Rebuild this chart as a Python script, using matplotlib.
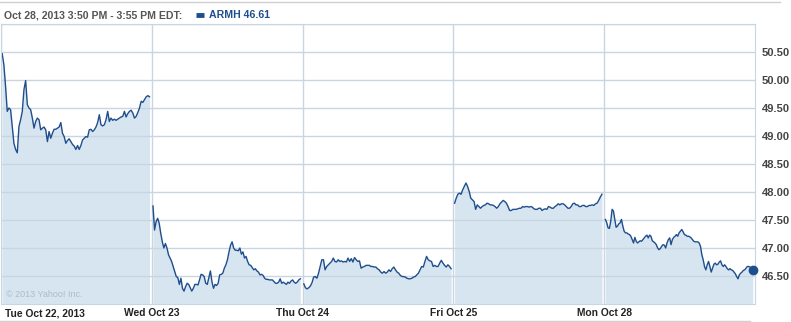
import numpy as np
import matplotlib.pyplot as plt
from matplotlib.lines import Line2D

# ARMH 5-minute prices, one list per trading day
tue = [50.47, 50.27, 49.89, 49.44, 49.50, 49.47, 49.17, 48.87, 48.76, 48.70,
       49.17, 49.29, 49.44, 49.83, 49.99, 49.56, 49.50, 49.47, 49.32, 49.14,
       49.26, 49.32, 49.29, 49.11, 49.14, 49.16, 49.11, 48.90, 49.08, 48.96,
       49.05, 49.12, 49.12, 49.14, 49.16, 49.24, 49.05, 48.99, 48.87, 48.92,
       48.95, 48.90, 48.85, 48.82, 48.76, 48.83, 48.76, 48.83, 48.93, 48.96,
       48.99, 48.98, 49.11, 49.12, 49.08, 49.11, 49.16, 49.24, 49.38, 49.20,
       49.18, 49.20, 49.29, 49.44, 49.26, 49.32, 49.28, 49.30, 49.28, 49.30,
       49.32, 49.34, 49.35, 49.44, 49.34, 49.40, 49.44, 49.46, 49.41, 49.32,
       49.35, 49.42, 49.50, 49.62, 49.60, 49.65, 49.70, 49.72, 49.70]
wed = [47.75, 47.32, 47.47, 47.53, 47.44, 47.26, 47.11, 47.00, 47.08, 47.00,
       46.88, 46.82, 46.76, 46.67, 46.58, 46.49, 46.47, 46.35, 46.46, 46.28,
       46.23, 46.31, 46.37, 46.35, 46.29, 46.23, 46.28, 46.35, 46.35, 46.34,
       46.43, 46.53, 46.52, 46.49, 46.37, 46.35, 46.47, 46.59, 46.40, 46.28,
       46.35, 46.33, 46.37, 46.52, 46.53, 46.55, 46.64, 46.70, 46.79, 46.93,
       47.05, 47.11, 47.00, 46.96, 46.96, 46.95, 47.00, 46.89, 46.93, 46.82,
       46.85, 46.76, 46.70, 46.69, 46.65, 46.61, 46.63, 46.59, 46.57, 46.52,
       46.53, 46.51, 46.46, 46.44, 46.44, 46.43, 46.43, 46.43, 46.40, 46.37,
       46.37, 46.39, 46.45, 46.37, 46.39, 46.37, 46.35, 46.39, 46.37, 46.41,
       46.43, 46.39, 46.37, 46.39, 46.43, 46.45]
thu = [46.36, 46.29, 46.27, 46.29, 46.32, 46.38, 46.48, 46.49, 46.46, 46.55,
       46.67, 46.79, 46.79, 46.61, 46.67, 46.70, 46.73, 46.76, 46.82, 46.76,
       46.75, 46.79, 46.76, 46.77, 46.75, 46.76, 46.75, 46.82, 46.76, 46.81,
       46.75, 46.83, 46.79, 46.76, 46.77, 46.64, 46.66, 46.67, 46.69, 46.69,
       46.69, 46.67, 46.67, 46.66, 46.66, 46.63, 46.61, 46.57, 46.55, 46.58,
       46.55, 46.57, 46.61, 46.58, 46.63, 46.66, 46.61, 46.57, 46.55, 46.51,
       46.49, 46.49, 46.48, 46.46, 46.45, 46.45, 46.46, 46.48, 46.49, 46.52,
       46.55, 46.61, 46.67, 46.66, 46.76, 46.85, 46.79, 46.77, 46.76, 46.67,
       46.69, 46.67, 46.67, 46.73, 46.78, 46.73, 46.69, 46.66, 46.70, 46.67,
       46.63]
fri = [47.80, 47.89, 47.96, 47.98, 47.96, 48.04, 48.10, 48.16, 48.10, 48.01,
       47.89, 47.86, 47.83, 47.69, 47.77, 47.74, 47.71, 47.74, 47.76, 47.77,
       47.80, 47.79, 47.77, 47.77, 47.76, 47.74, 47.71, 47.74, 47.79, 47.82,
       47.85, 47.83, 47.80, 47.74, 47.67, 47.67, 47.69, 47.69, 47.69, 47.70,
       47.71, 47.71, 47.74, 47.73, 47.74, 47.74, 47.73, 47.74, 47.73, 47.70,
       47.69, 47.69, 47.71, 47.71, 47.67, 47.69, 47.70, 47.69, 47.74, 47.73,
       47.71, 47.71, 47.74, 47.76, 47.79, 47.77, 47.79, 47.79, 47.77, 47.74,
       47.71, 47.71, 47.74, 47.79, 47.80, 47.77, 47.77, 47.74, 47.74, 47.76,
       47.76, 47.74, 47.74, 47.76, 47.76, 47.77, 47.76, 47.79, 47.80, 47.85,
       47.91, 47.96]
mon = [47.51, 47.45, 47.36, 47.35, 47.48, 47.69, 47.66, 47.51, 47.37, 47.39,
       47.43, 47.45, 47.51, 47.39, 47.30, 47.27, 47.27, 47.25, 47.24, 47.21,
       47.15, 47.09, 47.19, 47.12, 47.09, 47.11, 47.13, 47.12, 47.15, 47.18,
       47.21, 47.23, 47.18, 47.23, 47.21, 47.13, 47.11, 47.09, 47.06, 47.00,
       46.97, 46.99, 47.03, 47.06, 47.05, 47.00, 47.09, 47.15, 47.18, 47.06,
       47.15, 47.19, 47.21, 47.24, 47.21, 47.27, 47.30, 47.33, 47.29, 47.24,
       47.23, 47.21, 47.21, 47.20, 47.18, 47.15, 47.12, 47.11, 47.11, 47.11,
       47.09, 47.03, 46.88, 46.79, 46.67, 46.61, 46.70, 46.76, 46.67, 46.57,
       46.64, 46.71, 46.73, 46.70, 46.71, 46.75, 46.77, 46.70, 46.67, 46.70,
       46.67, 46.63, 46.61, 46.63, 46.61, 46.60, 46.57, 46.54, 46.49, 46.45,
       46.52, 46.55, 46.57, 46.60, 46.61, 46.64, 46.67, 46.67, 46.66, 46.63,
       46.61]
days = [tue, wed, thu, fri, mon]
day_labels = ['Tue Oct 22, 2013', 'Wed Oct 23', 'Thu Oct 24', 'Fri Oct 25', 'Mon Oct 28']
y_ticks = [46.5, 47.0, 47.5, 48.0, 48.5, 49.0, 49.5, 50.0, 50.5]
last_price = mon[-1]

line_c = '#1f4e8c'
fill_c = '#d6e5f0'
grid_c = '#c7d6e1'
font = 'Liberation Sans'
lab_kw = dict(fontsize=7.4, fontweight='bold', color='#222222', family=font)

fig = plt.figure(figsize=(7.91, 3.22), dpi=100)
ax = fig.add_axes([1 / 791, 18 / 322, 754 / 791, 280 / 322])

for d, prices in enumerate(days):
    x = np.linspace(d + 0.008, d + 0.985, len(prices))
    ax.fill_between(x, prices, 46.0, color=fill_c, lw=0)
    ax.plot(x, prices, color=line_c, lw=1.0)
    if d == len(days) - 1:
        ax.plot(x[-1], prices[-1], 'o', color=line_c, ms=6, zorder=5, clip_on=False)

ax.set_xlim(0, 5)
ax.set_ylim(46.0, 51.0)
ax.set_xticks(range(5))
ax.set_xticklabels([''] + day_labels[1:], **lab_kw)
# first date sits left-aligned just inside the plot edge
ax.annotate(day_labels[0], xy=(0, 0), xycoords='axes fraction', xytext=(3, -3),
            textcoords='offset points', ha='left', va='top', **lab_kw)
ax.set_yticks(np.arange(46.5, 51.01, 0.5))
ax.set_yticklabels(['%.2f' % v for v in y_ticks] + [''], fontsize=8,
                   fontweight='bold', color='#444444', family=font)
ax.yaxis.tick_right()
ax.tick_params(length=0)
ax.tick_params(axis='y', pad=5)
ax.tick_params(axis='x', pad=3)
ax.grid(True, color=grid_c, lw=1)
ax.set_axisbelow('line')
for s in ax.spines.values():
    s.set_color(grid_c)

ax.text(0.006, 0.025, '\u00a9 2013 Yahoo! Inc.', transform=ax.transAxes,
        fontsize=6.5, color='#b0bcc6', family=font)

# header
fig.text(4 / 791, 1 - 15 / 322, 'Oct 28, 2013 3:50 PM - 3:55 PM EDT:', fontsize=7.6,
         fontweight='bold', color='#555555', family=font, va='center')
fig.add_artist(Line2D([196 / 791, 204 / 791], [1 - 14.5 / 322] * 2, lw=3.5,
                      color=line_c, solid_capstyle='butt', transform=fig.transFigure))
fig.text(209 / 791, 1 - 15 / 322, 'ARMH %.2f' % last_price, fontsize=7.6,
         fontweight='bold', color=line_c, family=font, va='center')
fig.add_artist(Line2D([0, 780 / 791], [1 - 1.5 / 322] * 2, color='#d0d0d0', lw=1,
                      transform=fig.transFigure))
fig.add_artist(Line2D([0, 750 / 791], [1.5 / 322] * 2, color='#d0d0d0', lw=1,
                      transform=fig.transFigure))

fig.savefig('out.png', dpi=100)
